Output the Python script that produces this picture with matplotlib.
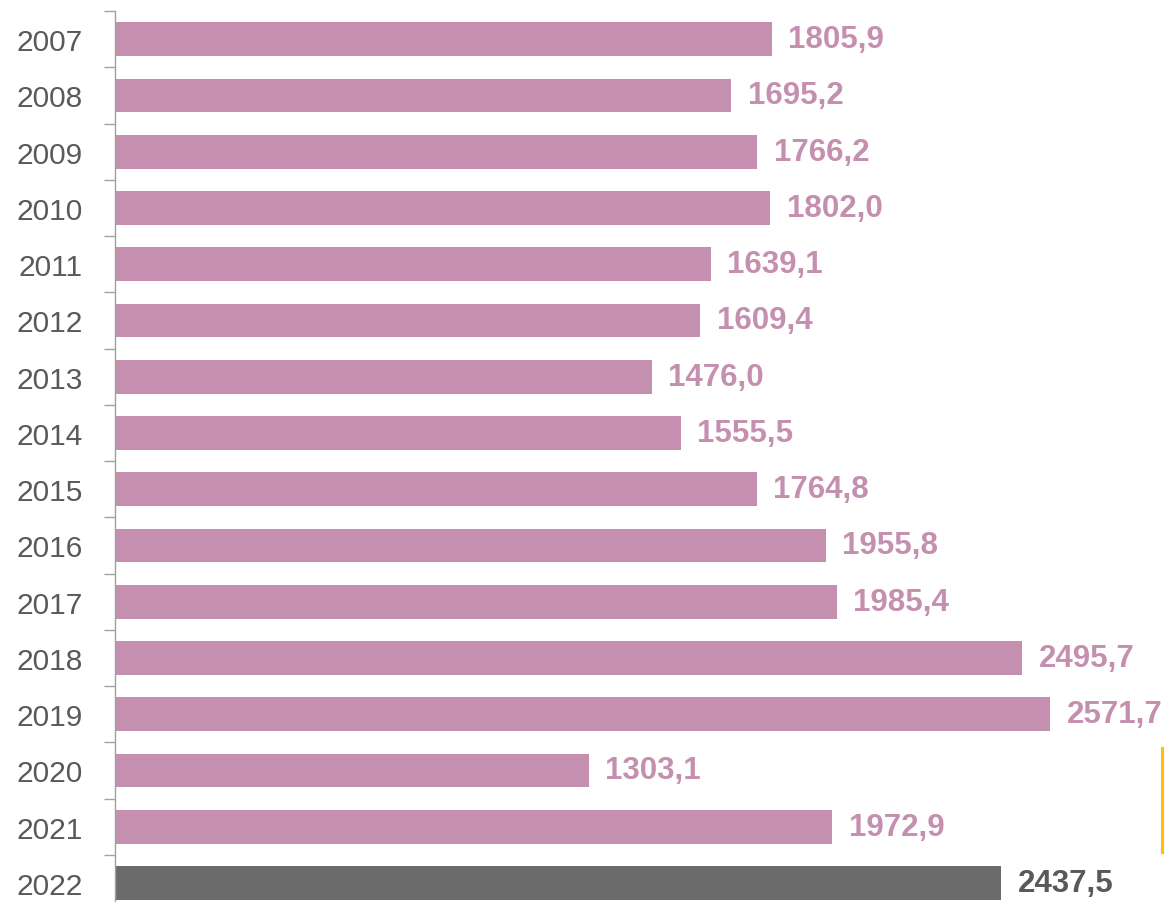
import matplotlib
matplotlib.use("Agg")
import matplotlib.pyplot as plt
from matplotlib.lines import Line2D
import numpy as np

years = ["2007", "2008", "2009", "2010", "2011", "2012", "2013", "2014",
         "2015", "2016", "2017", "2018", "2019", "2020", "2021", "2022"]
values = [1805.9, 1695.2, 1766.2, 1802.0, 1639.1, 1609.4, 1476.0, 1555.5,
          1764.8, 1955.8, 1985.4, 2495.7, 2571.7, 1303.1, 1972.9, 2437.5]

plt.rcParams['font.family'] = ['Liberation Sans', 'DejaVu Sans']

W, H = 1165, 903
fig = plt.figure(figsize=(W / 100, H / 100), dpi=100)
ax = fig.add_axes([115 / W, -9 / H, 1050 / W, 900 / H])

pink = '#C58FB0'
grey_bar = '#6B6B6B'
text_grey = '#595959'

pos = np.arange(len(years))
colors = [pink] * (len(years) - 1) + [grey_bar]
ax.barh(pos, values, height=0.6, color=colors)

for p, v, c in zip(pos, values, colors):
    tc = pink if c == pink else text_grey
    ax.text(v + 45, p, f"{v:.1f}".replace('.', ','), va='center', ha='left',
            fontsize=22.5, fontweight='bold', color=tc)

ax.set_xlim(0, 1050 / 0.3636)
ax.set_ylim(len(years) - 0.5, -0.5)

ax.set_yticks(np.arange(-0.5, len(years) + 0.5, 1))
ax.set_yticklabels([])
ax.set_yticks(pos, minor=True)
ax.set_yticklabels(years, minor=True, fontsize=21.5, color=text_grey)
ax.tick_params(axis='y', which='major', length=8, color='#A0A0A0', width=1)
ax.tick_params(axis='y', which='minor', length=0, pad=23)
ax.set_xticks([])

for s in ['top', 'right', 'bottom']:
    ax.spines[s].set_visible(False)
ax.spines['left'].set_color('#A0A0A0')
ax.spines['left'].set_linewidth(1)

fig.add_artist(Line2D([1162 / W, 1162 / W], [1 - 749 / H, 1 - 853 / H],
                      color='#FFC000', linewidth=2.2, transform=fig.transFigure))

fig.savefig("out.png", dpi=100)
